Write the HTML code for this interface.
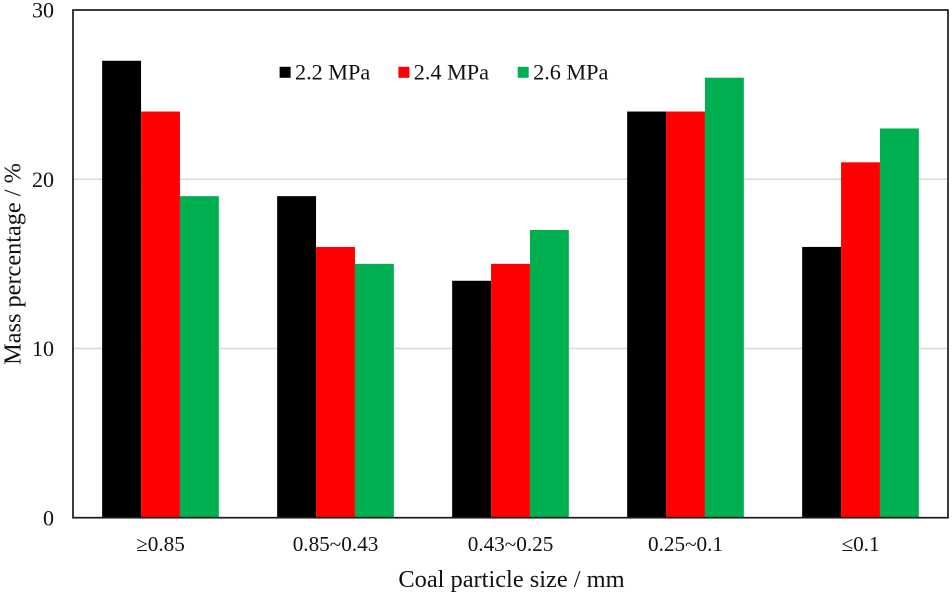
<!DOCTYPE html>
<html>
<head>
<meta charset="utf-8">
<title>Mass percentage by coal particle size</title>
<style>
html,body{margin:0;padding:0;background:#fff;width:952px;height:594px;overflow:hidden}
svg{display:block;filter:blur(0.35px)}
text{font-family:"Liberation Serif",serif;fill:#111}
</style>
</head>
<body>
<svg id="chart" width="952" height="594" viewBox="0 0 952 594" xmlns="http://www.w3.org/2000/svg"></svg>
<script>
const categories = ["≥0.85", "0.85~0.43", "0.43~0.25", "0.25~0.1", "≤0.1"];
const seriesNames = ["2.2 MPa", "2.4 MPa", "2.6 MPa"];
const series22 = [27, 19, 14, 24, 16];
const series24 = [24, 16, 15, 24, 21];
const series26 = [19, 15, 17, 26, 23];
const yTicks = [0, 10, 20, 30];
const seriesColors = ["#000000", "#ff0000", "#00b050"];
const allSeries = [series22, series24, series26];

const NS = "http://www.w3.org/2000/svg";
const svg = document.getElementById("chart");
const plot = {left: 73, right: 948, top: 10, bottom: 517.7};
const yMax = 30;
const barWidth = 38.9;

function yScale(v) {
  return plot.bottom - (v / yMax) * (plot.bottom - plot.top);
}
function groupCenter(i) {
  return plot.left + (plot.right - plot.left) * (i + 0.5) / categories.length;
}
function make(tag, attrs, parent) {
  const el = document.createElementNS(NS, tag);
  for (const k in attrs) el.setAttribute(k, attrs[k]);
  (parent || svg).appendChild(el);
  return el;
}

// Gridlines and y tick labels
yTicks.forEach(function (t) {
  if (t !== 0 && t !== yMax) {
    const g = make("line", {x1: plot.left, x2: plot.right, y1: yScale(t), y2: yScale(t), stroke: "#d9d9d9", "stroke-width": 1.5});
    
    
  }
  const lab = make("text", {x: 54, y: yScale(t) + 7.7, "text-anchor": "end", "font-size": 22});
  lab.textContent = String(t);
  
  
});

// Bars
allSeries.forEach(function (vals, s) {
  vals.forEach(function (v, i) {
    const x = groupCenter(i) + (s - 1.5) * barWidth;
    const r = make("rect", {x: x, y: yScale(v), width: barWidth, height: plot.bottom - yScale(v), fill: seriesColors[s]});
    
    
  });
});

// Plot frame
const frame = make("rect", {x: plot.left, y: plot.top, width: plot.right - plot.left, height: plot.bottom - plot.top, fill: "none", stroke: "#1a1a1a", "stroke-width": 1.7});



// Category labels
categories.forEach(function (c, i) {
  const t = make("text", {x: groupCenter(i), y: 551, "text-anchor": "middle", "font-size": 21.2});
  t.textContent = c;
  
  
});

// Axis titles
const xTitle = make("text", {x: 511.5, y: 587, "text-anchor": "middle", "font-size": 24.4});
xTitle.textContent = "Coal particle size / mm";



const yTitle = make("text", {x: 0, y: 0, "text-anchor": "middle", "font-size": 24.3, transform: "translate(20.5 264) rotate(-90)"});
yTitle.textContent = "Mass percentage / %";



// Legend
const legendSwatchX = [279.6, 398.4, 517.7];
seriesNames.forEach(function (n, s) {
  const sw = make("rect", {x: legendSwatchX[s], y: 66.8, width: 11, height: 11, fill: seriesColors[s]});
  
  
  const t = make("text", {x: legendSwatchX[s] + 15.4, y: 79.7, "font-size": 22.2});
  t.textContent = n;
  
  
});
</script>
</body>
</html>
